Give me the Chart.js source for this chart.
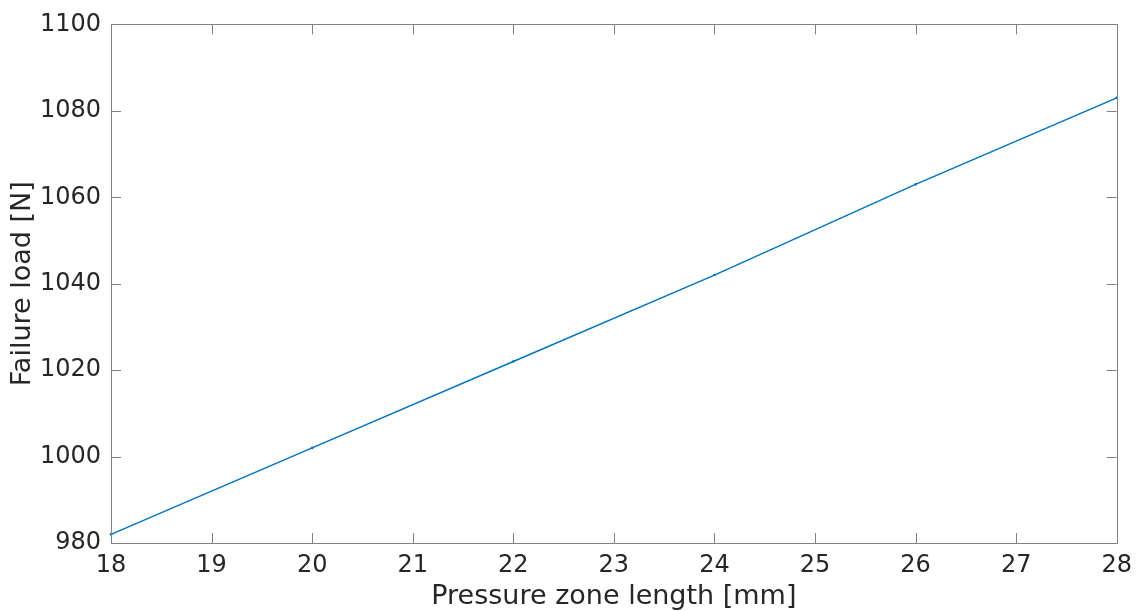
<!DOCTYPE html>
<html>
<head>
<meta charset="utf-8">
<script src="https://cdn.jsdelivr.net/npm/chart.js@4.4.1/dist/chart.umd.min.js"></script>
<style>
  html, body { margin: 0; padding: 0; background: #ffffff; }
  #wrap { width: 1140px; height: 611px; position: relative; }
</style>
</head>
<body>
<div id="wrap"><canvas id="c" width="1140" height="611"></canvas></div>
<script>
// Pressure zone length [mm] and the measured failure load [N]
const zoneLength = [18, 20, 22, 24, 26, 28];
const failureLoad = [982, 1002, 1022, 1042, 1063, 1083];

// Axis ranges and tick spacing
const xRange = [18, 28];
const xStep = 1;
const yRange = [980, 1100];
const yStep = 20;

const axisColor = '#808080';
const textColor = '#262626';
const fontFamily = '"DejaVu Sans", sans-serif';

// Boxed axes with short inward tick marks on all four sides
const boxTicks = {
  id: 'boxTicks',
  afterDraw(chart) {
    const { ctx, chartArea: a, scales } = chart;
    const len = 10;
    ctx.save();
    ctx.strokeStyle = axisColor;
    ctx.lineWidth = 1;
    ctx.beginPath();
    ctx.rect(Math.round(a.left) + 0.5, Math.round(a.top) + 0.5,
             Math.round(a.right - a.left), Math.round(a.bottom - a.top));
    scales.x.ticks.forEach(t => {
      const px = Math.round(scales.x.getPixelForValue(t.value)) + 0.5;
      ctx.moveTo(px, a.bottom); ctx.lineTo(px, a.bottom - len);
      ctx.moveTo(px, a.top); ctx.lineTo(px, a.top + len);
    });
    scales.y.ticks.forEach(t => {
      const py = Math.round(scales.y.getPixelForValue(t.value)) + 0.5;
      ctx.moveTo(a.left, py); ctx.lineTo(a.left + len, py);
      ctx.moveTo(a.right, py); ctx.lineTo(a.right - len, py);
    });
    ctx.stroke();
    ctx.restore();
  }
};

new Chart(document.getElementById('c'), {
  type: 'line',
  data: {
    datasets: [{
      data: zoneLength.map((x, i) => ({ x, y: failureLoad[i] })),
      borderColor: '#0072BD',
      backgroundColor: '#0072BD',
      borderWidth: 1.4,
      pointRadius: 1.3,
      pointHoverRadius: 1.3,
      pointBorderWidth: 0,
      tension: 0,
      clip: false
    }]
  },
  options: {
    responsive: false,
    animation: false,
    events: [],
    layout: { padding: { top: 20, right: 22, left: 0, bottom: 0 } },
    plugins: { legend: { display: false }, tooltip: { enabled: false } },
    scales: {
      x: {
        type: 'linear',
        min: xRange[0], max: xRange[1],
        afterFit(s) { s.height = 68; },
        grid: { display: false, drawTicks: false },
        border: { display: false },
        ticks: {
          stepSize: xStep,
          padding: 8,
          color: textColor,
          font: { family: fontFamily, size: 24 },
          maxRotation: 0,
          autoSkip: false,
          callback: v => String(v)
        },
        title: {
          display: true,
          text: 'Pressure zone length [mm]',
          color: textColor,
          font: { family: fontFamily, size: 27 },
          padding: { top: 0, bottom: -2 }
        }
      },
      y: {
        type: 'linear',
        min: yRange[0], max: yRange[1],
        afterFit(s) { s.width = 111; },
        grid: { display: false, drawTicks: false },
        border: { display: false },
        ticks: {
          stepSize: yStep,
          padding: 10,
          color: textColor,
          font: { family: fontFamily, size: 24 },
          autoSkip: false,
          callback: v => String(v)
        },
        title: {
          display: true,
          text: 'Failure load [N]',
          color: textColor,
          font: { family: fontFamily, size: 27 },
          padding: { top: 7, bottom: 0 }
        }
      }
    }
  },
  plugins: [boxTicks]
});
</script>
</body>
</html>
